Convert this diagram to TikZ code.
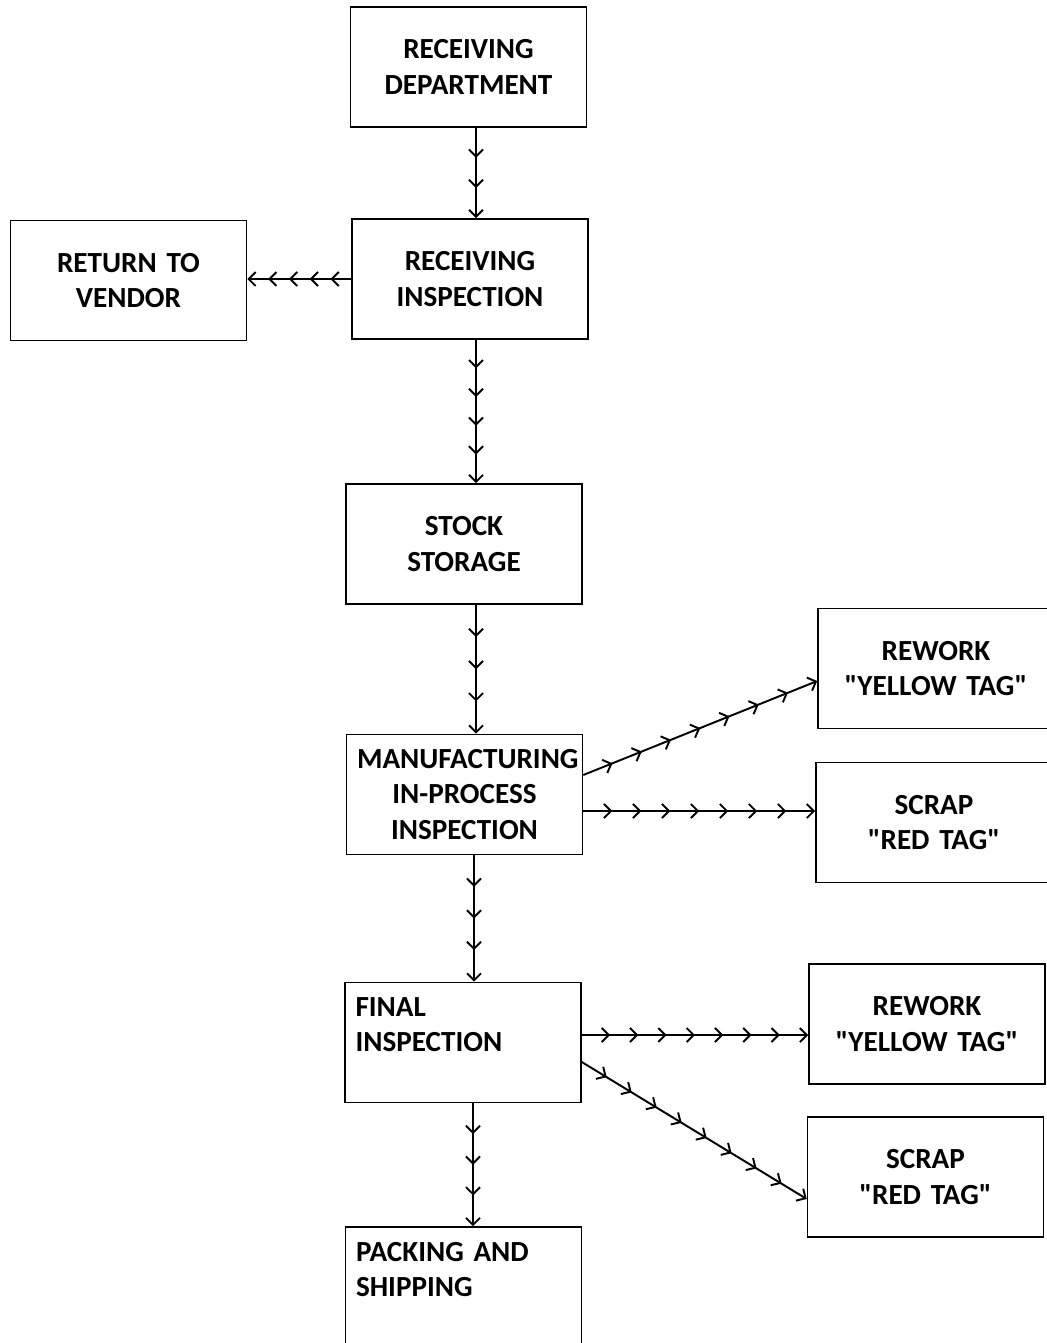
\documentclass[tikz,border=0pt]{standalone}
\usepackage{fontspec}
\setmainfont{Carlito}
\usepackage{tikz}
\usetikzlibrary{arrows.meta,decorations.markings}

\begin{document}
\begin{tikzpicture}[x=0.02cm, y=-0.02cm, >={Straight Barb[length=4pt,width=8pt]}]
\tikzstyle{block} = [rectangle, draw, line width=0.9pt, minimum width=4.72cm, minimum height=2.4cm, inner sep=0.2cm, text width=4.3cm, align=center, font=\bfseries\fontsize{16.6}{20.2}\selectfont]
\tikzstyle{leftblock} = [block, align=left]
\tikzstyle{line} = [draw, line width=1.1pt, ->, decoration={markings, mark=between positions #1 and 0.97 step #1 with {\arrow{>}}}, postaction={decorate}]

\useasboundingbox (0,0) rectangle (1046,1343);

\node [block] (dept) at (468.5,67) {RECEIVING\\DEPARTMENT};
\node [block] (insp) at (470,279) {RECEIVING\\INSPECTION};
\node [block] (ret) at (128.5,280.5) {RETURN TO\\VENDOR};
\node [block] (stock) at (464,544) {STOCK\\STORAGE};
\node [block] (manuf) at (464.5,794.5) {MANUFACTURING\\IN-PROCESS\\INSPECTION};
\node [block] (rework1) at (936,668.5) {REWORK\\\textquotedbl YELLOW TAG\textquotedbl};
\node [block] (scrap1) at (934,822.5) {SCRAP\\\textquotedbl RED TAG\textquotedbl};
\node [leftblock] (final) at (463,1042.5) {FINAL\\INSPECTION\\\mbox{}};
\node [block] (rework2) at (927,1024) {REWORK\\\textquotedbl YELLOW TAG\textquotedbl};
\node [block] (scrap2) at (925.5,1177) {SCRAP\\\textquotedbl RED TAG\textquotedbl};
\node [leftblock] (pack) at (463.5,1287) {PACKING AND\\SHIPPING\\\mbox{}};

\path [line=0.333] ([xshift=0.15cm]dept.south) -- ([xshift=0.12cm]insp.north);
\path [line=0.2] (insp.west) -- (insp.west -| ret.east);
\path [line=0.2] ([xshift=0.12cm]insp.south) -- ([xshift=0.12cm]insp.south |- stock.north);
\path [line=0.25] ([xshift=0.24cm]stock.south) -- ([xshift=0.24cm]stock.south |- manuf.north);
\path [line=0.125] ([yshift=0.39cm]manuf.east) -- ([yshift=-0.25cm]rework1.west);
\path [line=0.125] ([yshift=-0.33cm]manuf.east) -- ([yshift=-0.33cm]manuf.east -| scrap1.west);
\path [line=0.25] ([xshift=0.19cm]manuf.south) -- ([xshift=0.19cm]manuf.south |- final.north);
\path [line=0.125] ([yshift=0.15cm]final.east) -- ([yshift=0.15cm]final.east -| rework2.west);
\path [line=0.111] ([yshift=-0.39cm]final.east) -- ([yshift=-0.44cm]scrap2.west);
\path [line=0.25] ([xshift=0.2cm]final.south) -- ([xshift=0.2cm]final.south |- pack.north);
\end{tikzpicture}
\end{document}
